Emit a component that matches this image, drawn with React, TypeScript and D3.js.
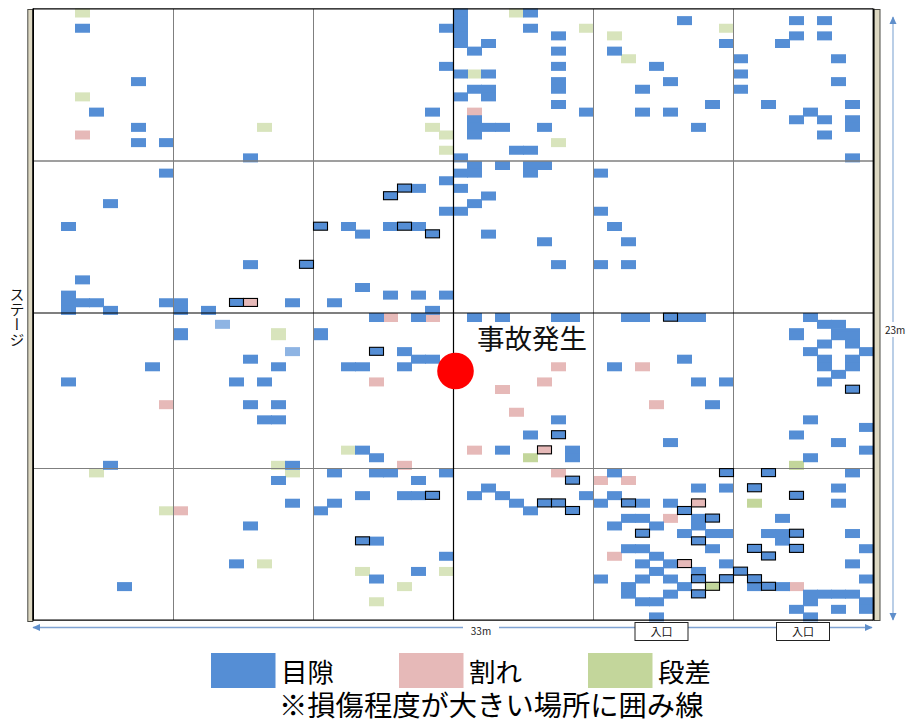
import React from "react";
import * as d3 from "d3";

type Cell = [number, number];

// Joint survey cells: [column, row]. Upper half uses rows 0-39, lower half its own rows from the stage centre line.
const upperGap: Cell[] = [
  [3,2],[7,9],[4,13],[7,15],[7,17],[9,17],[15,19],[9,21],[5,25],[2,28],[15,33],[3,35],[2,37],[2,38],[2,39],[3,38],[4,38],[5,39],[9,38],[10,38],[10,39],[12,39],[18,38],
  [30,0],[30,1],[30,2],[30,3],[30,4],[29,2],[32,4],[31,5],[35,0],[35,2],[37,3],[37,5],[37,7],[29,7],[30,8],[32,8],[37,9],[37,10],[31,10],[32,10],[30,11],[32,11],[37,12],[28,13],[39,13],[31,14],[31,15],[31,16],[32,15],[33,15],[36,15],[34,18],[35,18],[30,19],[31,20],[33,20],[35,20],[36,20],[30,21],[31,21],[35,21],[40,21],[29,22],[27,23],[30,23],[32,24],[31,25],[29,26],[30,26],[40,26],[22,28],[23,29],[25,28],[27,28],[32,29],[36,30],[37,33],[40,33],[23,36],[25,37],[27,37],[29,37],[21,38],[28,39],
  [46,1],[49,4],[41,5],[44,7],[45,9],[43,10],[48,12],[43,13],[45,13],[47,15],[50,6],[50,8],[50,10],[54,1],[56,1],[54,3],[56,3],[53,4],[57,6],[57,9],[52,12],[58,12],[55,13],[54,14],[56,14],[58,14],[58,15],[56,16],[58,19],[41,28],[42,30],[42,33],
];
const upperGapMarked: Cell[] = [[14,38],[26,23],[25,24],[20,28],[26,28],[28,29],[19,33]];
const upperCrack: Cell[] = [[3,16],[31,13]];
const upperCrackMarked: Cell[] = [[15,38]];
const upperStep: Cell[] = [[3,0],[3,11],[16,15],[34,0],[39,2],[31,8],[28,15],[29,16],[29,18],[37,17],[41,3],[49,2],[42,6]];

const lowerGap: Cell[] = [
  [24,-0.5],[27,-0.5],[31,-0.5],[33,-0.5],[37,-0.5],[38,-0.5],[42,-0.5],[43,-0.5],[46,-0.5],[47,-0.5],[55,-0.5],
  [10,1.5],[10,1.9],[15,5],[8,6],[17,6],[2,8],[14,8],[16,8],[15,11],[17,11],[16,13],[17,13],[5,19],[18,19],[17,21],[18,24],[15,27],[14,32],[6,35],
  [20,1.5],[20,1.9],[26,4],[27,5],[28,5],[22,6],[23,6],[26,6],[37,13],[35,15],[23,17],[24,18],[33,17],[38,17],[38,18],[21,20],[24,20],[25,20],[29,20],[27,21],[23,23],[26,23],[27,23],[32,22],[31,23],[33,23],[39,23],[21,24],[20,25],[34,24],[40,24],[35,25],[24,29],[29,31],[27,33],[24,34],[40,34],
  [56,0.4],[57,0.4],[54,1.5],[54,1.9],[57,1.5],[57,1.9],[58,1.5],[58,1.9],[56,3],[58,3],[55,4],[59,4],[56,5],[56,6],[58,5],[58,6],[57,7],[56,8],
  [46,5],[41,6],[47,8],[49,8],[48,11],[55,13],[59,14],[54,15],[45,16],[57,16],[59,17],[55,18],
  [41,20],[58,20],[47,22],[49,22],[57,22],[41,23],[43,24],[45,24],[57,24],[42,26],[43,26],[47,26],[47,27],[53,26],[41,27],[44,27],[46,28],[48,28],[49,28],[52,28],[53,28],[58,28],[53,29],[42,30],[43,30],[48,30],[59,30],[44,31],[43,32],[45,32],[49,32],[58,32],[44,33],[47,33],[43,34],[45,34],[59,34],[42,35],[42,36],[46,35],[51,35],[53,35],[45,36],[55,36],[56,36],[57,36],[58,36],[55,37],[43,37],[44,37],[59,37],[59,38],[54,38],[57,38],[44,39],[55,39],
];
const lowerGapMarked: Cell[] = [[24,4],[37,15],[38,21],[28,23],[36,24],[37,24],[38,25],[23,29],[58,9],[49,20],[52,20],[51,22],[54,23],[42,24],[46,25],[48,26],[43,28],[54,28],[47,29],[51,30],[54,30],[52,31],[50,33],[47,34],[49,34],[51,34],[52,35],[47,36],[45,-0.5]];
const lowerGapFaint: Cell[] = [[13,0.4],[18,4]];
const lowerCrack: Cell[] = [[25,-0.5],[28,-0.5],[24,8],[37,6],[36,8],[33,9],[34,12],[31,17],[26,19],[37,20],[40,21],[9,11],[10,25],[43,6],[44,11],[42,21],[45,26],[41,31],[54,35]];
const lowerCrackMarked: Cell[] = [[36,17],[47,24],[46,32]];
const lowerStep: Cell[] = [[17,1.5],[17,1.9],[17,19],[4,20],[18,20],[9,25],[16,32],[22,17],[23,33],[29,33],[26,35],[24,37]];
const lowerStepDark: Cell[] = [[35,18],[54,19],[51,24]];
const lowerStepMarked: Cell[] = [[48,35]];

const gridColumns = [10, 20, 40, 50];
const legendItems = ["目隙", "割れ", "段差"];
const entranceLabel = "入口";

const BLUE = "#558ed5", PINK = "#e6b9b8", PALE = "#d8e4bc", GREEN = "#c3d69b", FAINT = "#8eb4e3";
const FONT = "'Noto Sans CJK JP', sans-serif";

const x = d3.scaleLinear().domain([0, 60]).range([33, 873]);
const yUpper = d3.scaleLinear().domain([0, 40]).range([8.5, 313.5]);
const yLower = d3.scaleLinear().domain([0, 40]).range([316.8, 620]);

const CW = 15, CH = 9;

function Cells({ data, y, fill, opacity, marked }: { data: Cell[]; y: d3.ScaleLinear<number, number>; fill: string; opacity?: number; marked?: boolean }) {
  return (
    <g>
      {data.map(([c, r], i) =>
        marked ? (
          <rect key={i} x={x(c) + 0.5} y={y(r) + 0.2} width={CW - 1} height={CH - 1} fill={fill} stroke="#000" strokeWidth={1.1} />
        ) : (
          <rect key={i} x={x(c)} y={y(r)} width={CW} height={CH} fill={fill} opacity={opacity} />
        )
      )}
    </g>
  );
}

export default function App() {
  return (
    <svg width={912} height={725} style={{ position: "absolute", left: 0, top: 0, background: "#fff" }} fontFamily={FONT}>
      <defs>
        <marker id="a" markerWidth="6" markerHeight="6" refX="5" refY="3" orient="auto-start-reverse">
          <path d="M0,0.5 L5.5,3 L0,5.5 Z" fill="#5f8fcb" />
        </marker>
      </defs>

      {/* damage cells */}
      <Cells data={upperStep} y={yUpper} fill={PALE} />
      <Cells data={lowerStep} y={yLower} fill={PALE} />
      <Cells data={lowerStepDark} y={yLower} fill={GREEN} />
      <Cells data={upperCrack} y={yUpper} fill={PINK} />
      <Cells data={lowerCrack} y={yLower} fill={PINK} />
      <Cells data={lowerGapFaint} y={yLower} fill={FAINT} />
      <Cells data={upperGap} y={yUpper} fill={BLUE} />
      <Cells data={lowerGap} y={yLower} fill={BLUE} />

      {/* grid */}
      {gridColumns.map((c) => (
        <line key={c} x1={x(c) + 0.5} x2={x(c) + 0.5} y1={9} y2={620} stroke="#7f7f7f" strokeWidth={1} />
      ))}
      <line x1={33} x2={873} y1={161} y2={161} stroke="#7f7f7f" strokeWidth={1.5} />
      <line x1={33} x2={873} y1={468.5} y2={468.5} stroke="#7f7f7f" strokeWidth={1} />
      <line x1={33} x2={873} y1={313} y2={313} stroke="#000" strokeWidth={1.2} />
      <line x1={x(30) + 0.5} x2={x(30) + 0.5} y1={9} y2={620} stroke="#000" strokeWidth={1.2} />
      <line x1={33} x2={873} y1={8.8} y2={8.8} stroke="#000" strokeWidth={1.2} />
      <line x1={33} x2={873} y1={620.2} y2={620.2} stroke="#000" strokeWidth={1.2} />

      {/* marked cells */}
      <Cells data={upperGapMarked} y={yUpper} fill={BLUE} marked />
      <Cells data={lowerGapMarked} y={yLower} fill={BLUE} marked />
      <Cells data={upperCrackMarked} y={yUpper} fill={PINK} marked />
      <Cells data={lowerCrackMarked} y={yLower} fill={PINK} marked />
      <Cells data={lowerStepMarked} y={yLower} fill={GREEN} marked />

      {/* stage walls */}
      <rect x={27.8} y={9.5} width={5} height={612} fill="#ddd8c2" stroke="#4a4a44" strokeWidth={1} />
      <rect x={874} y={9.5} width={6} height={611} fill="#ddd8c2" stroke="#4a4a44" strokeWidth={1} />
      <line x1={33.2} x2={33.2} y1={8.5} y2={620.5} stroke="#000" strokeWidth={1.6} />
      <line x1={873.5} x2={873.5} y1={8.5} y2={620.5} stroke="#000" strokeWidth={1.8} />

      {/* dimension arrows */}
      <line x1={33} x2={872} y1={627.5} y2={627.5} stroke="#7fa3d3" strokeWidth={1.4} markerStart="url(#a)" markerEnd="url(#a)" />
      <rect x={463} y={622} width={36} height={13} fill="#fff" />
      <text x={481} y={635} fontSize={10} textAnchor="middle" fill="#222">33m</text>
      <line x1={893} x2={893} y1={17} y2={620} stroke="#9dbadd" strokeWidth={1.4} markerStart="url(#a)" markerEnd="url(#a)" />
      <rect x={883} y={322} width={26} height={15} fill="#fff" />
      <text x={885} y={334} fontSize={10} fill="#222">23m</text>

      {/* entrances */}
      {[635, 776.5].map((bx) => (
        <g key={bx}>
          <rect x={bx} y={622.5} width={53} height={18} fill="#fff" stroke="#222" strokeWidth={1} />
          <text x={bx + 26.5} y={635.5} fontSize={11} textAnchor="middle" fill="#111">{entranceLabel}</text>
        </g>
      ))}

      {/* accident marker */}
      <circle cx={455.5} cy={371} r={18.3} fill="#ff0000" />
      <text x={532} y={349} fontSize={27.5} textAnchor="middle" fill="#111">事故発生</text>

      {/* stage label */}
      <text x={17} y={287} fontSize={15} fill="#111" style={{ writingMode: "vertical-rl" }}>ステージ</text>

      {/* legend */}
      {legendItems.map((name, i) => {
        const lx = [211, 399, 588][i];
        return (
          <g key={name}>
            <rect x={lx} y={653} width={64.5} height={35} fill={[BLUE, PINK, GREEN][i]} />
            <text x={lx + 70} y={682} fontSize={26.5} fill="#000">{name}</text>
          </g>
        );
      })}
      <text x={279} y={716} fontSize={28.3} fill="#000">※損傷程度が大きい場所に囲み線</text>
    </svg>
  );
}
